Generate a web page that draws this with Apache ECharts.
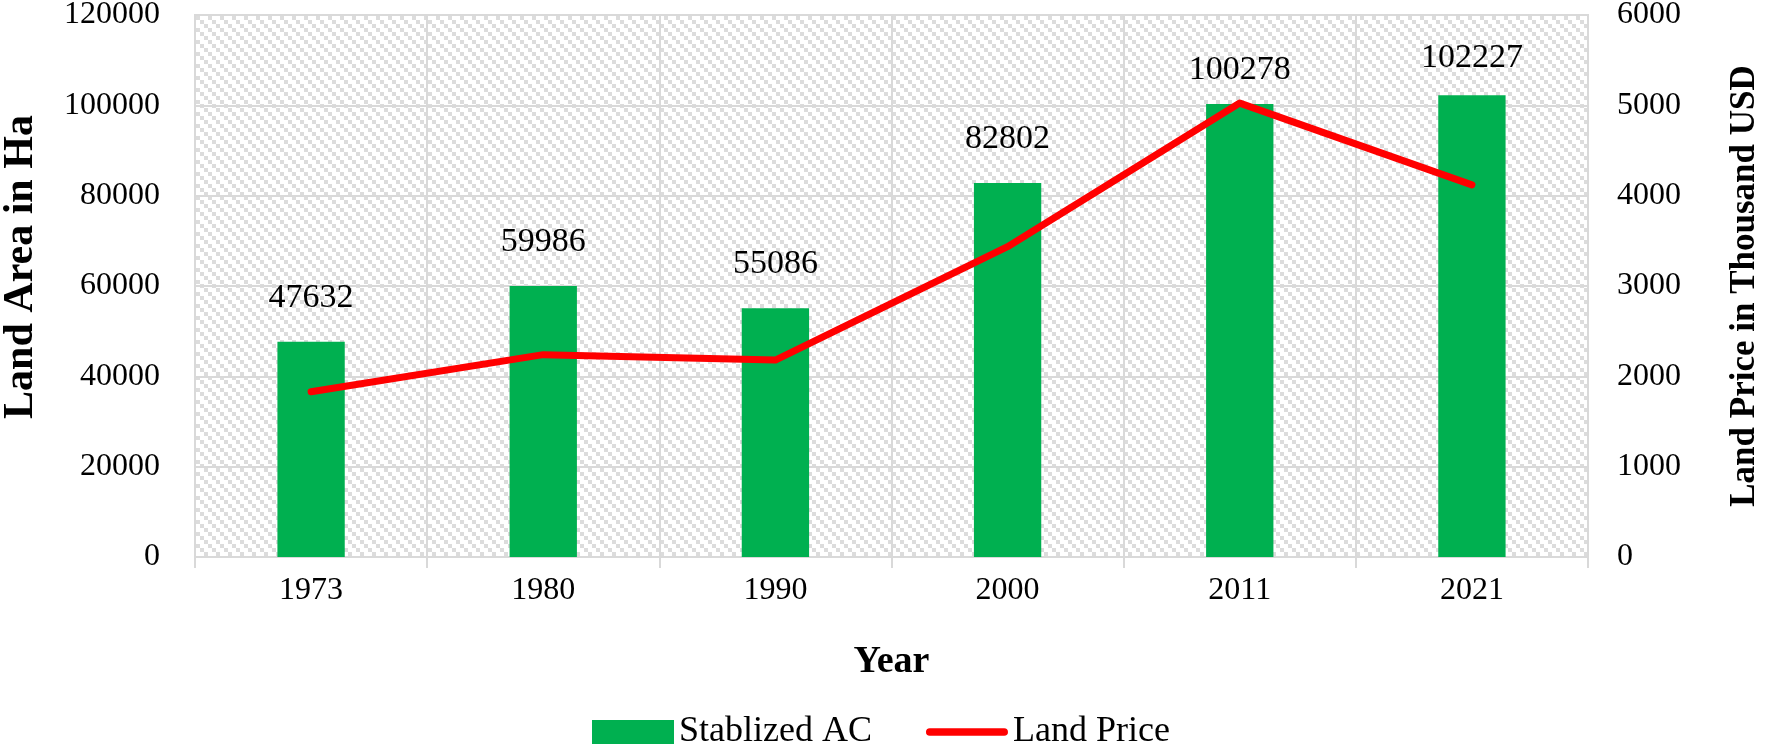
<!DOCTYPE html>
<html>
<head>
<meta charset="utf-8">
<script src="https://cdn.jsdelivr.net/npm/echarts@6/dist/echarts.min.js"></script>
<style>
html,body{margin:0;padding:0;background:#fff;}
#chart{width:1772px;height:753px;}
</style>
</head>
<body>
<div id="chart"></div>
<script>
const years = ['1973', '1980', '1990', '2000', '2011', '2021'];
const stabilizedAC = [47632, 59986, 55086, 82802, 100278, 102227];
const landPrice = [1830, 2240, 2180, 3435, 5025, 4120];
const leftTicks = [0, 20000, 40000, 60000, 80000, 100000, 120000];
const rightTicks = [0, 1000, 2000, 3000, 4000, 5000, 6000];

const FONT = "'Liberation Serif', 'Times New Roman', serif";

// hatch pattern (downward diagonal, stair-stepped)
const pc = document.createElement('canvas');
pc.width = 12; pc.height = 12;
const pctx = pc.getContext('2d');
pctx.fillStyle = '#ffffff';
pctx.fillRect(0, 0, 12, 12);
pctx.fillStyle = '#dcdcdc';
for (let by = 0; by < 3; by++) {
  for (let bx = 0; bx < 3; bx++) {
    if (((bx - by) % 3 + 3) % 3 === 0) pctx.fillRect(bx * 4, by * 4, 4, 4);
  }
}

const plain = v => String(v);
// label gap above each bar (layout only)
const labelGap = [27, 27, 27, 27, 17, 20];

const chart = echarts.init(document.getElementById('chart'), null, {renderer: 'canvas'});
chart.setOption({
  animation: false,
  backgroundColor: '#ffffff',
  textStyle: {fontFamily: FONT, color: '#000'},
  grid: {
    left: 195, right: 184, top: 15, bottom: 196,
    containLabel: false,
    outerBoundsMode: 'none',
    show: true,
    backgroundColor: {image: pc, repeat: 'repeat'},
    borderColor: '#d9d9d9', borderWidth: 2
  },
  legend: {
    left: 587, top: 709,
    itemWidth: 82, itemHeight: 24, itemGap: 54,
    symbolKeepAspect: true,
    textStyle: {fontFamily: FONT, fontSize: 36, color: '#000'},
    data: [
      {name: 'Stablized AC', icon: 'rect'},
      {name: 'Land Price', icon: 'path://M4,0 L82,0 A4,4 0 0 1 82,8 L4,8 A4,4 0 0 1 4,0 Z',
        itemStyle: {color: '#ff0000'}}
    ]
  },
  xAxis: {
    type: 'category',
    data: years,
    name: 'Year',
    nameLocation: 'middle',
    nameGap: 86,
    nameTextStyle: {fontFamily: FONT, fontSize: 38, fontWeight: 'bold', color: '#000'},
    axisLine: {lineStyle: {color: '#d9d9d9', width: 2}},
    axisTick: {show: true, length: 11, lineStyle: {color: '#d9d9d9', width: 2}},
    axisLabel: {fontFamily: FONT, fontSize: 32, color: '#000', margin: 18},
    splitLine: {show: true, lineStyle: {color: '#d9d9d9', width: 2}}
  },
  yAxis: [
    {
      type: 'value', min: leftTicks[0], max: leftTicks[leftTicks.length - 1], interval: 20000,
      name: 'Land Area in Ha',
      nameLocation: 'middle', nameGap: 153, nameRotate: 90,
      nameTextStyle: {fontFamily: FONT, fontSize: 42, fontWeight: 'bold', color: '#000',
        padding: [0, 0, 0, 38]},
      axisLine: {show: false}, axisTick: {show: false},
      axisLabel: {fontFamily: FONT, fontSize: 32, color: '#000', margin: 35, formatter: plain},
      splitLine: {show: true, lineStyle: {color: '#d9d9d9', width: 2}}
    },
    {
      type: 'value', min: rightTicks[0], max: rightTicks[rightTicks.length - 1], interval: 1000,
      position: 'right',
      name: 'Land Price in Thousand USD',
      nameLocation: 'middle', nameGap: 139, nameRotate: 90,
      nameTextStyle: {fontFamily: FONT, fontSize: 35, fontWeight: 'bold', color: '#000'},
      axisLine: {show: false}, axisTick: {show: false},
      axisLabel: {fontFamily: FONT, fontSize: 32, color: '#000', margin: 29, formatter: plain},
      splitLine: {show: false}
    }
  ],
  series: [
    {
      name: 'Stablized AC',
      type: 'bar',
      data: stabilizedAC.map((v, i) => ({value: v, label: {distance: labelGap[i]}})),
      barWidth: '29%',
      itemStyle: {color: '#00b050'},
      label: {show: true, position: 'top',
        fontFamily: FONT, fontSize: 34, color: '#000'}
    },
    {
      name: 'Land Price',
      type: 'line',
      yAxisIndex: 1,
      data: landPrice,
      symbol: 'none',
      lineStyle: {color: '#ff0000', width: 7, cap: 'round', join: 'round'},
      itemStyle: {color: '#ff0000'}
    }
  ]
});
</script>
</body>
</html>
